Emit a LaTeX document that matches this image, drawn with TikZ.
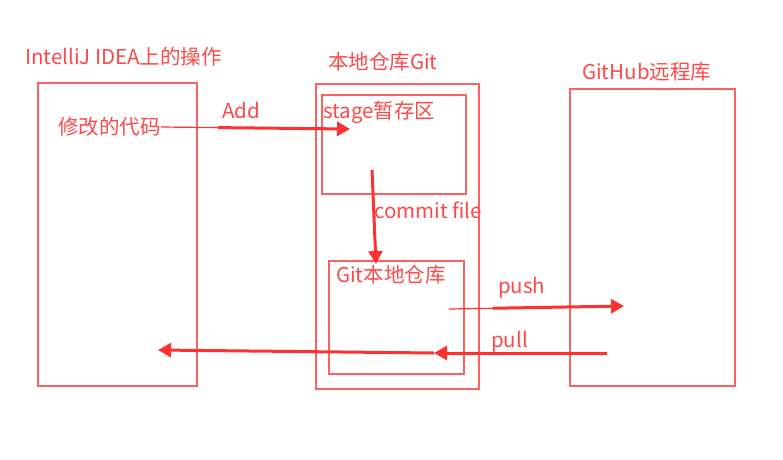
\documentclass[tikz,border=0pt]{standalone}
\usepackage{fontspec}
\setmainfont{Noto Sans CJK SC}
\usetikzlibrary{arrows.meta,calc}
\definecolor{boxred}{HTML}{FF6060}
\definecolor{txtred}{HTML}{FF4848}
\definecolor{arrred}{HTML}{FF3030}
\tikzset{
  frame/.style={draw=boxred, line width=1.3pt},
  lbl/.style={text=txtred, font=\fontsize{20.5}{22}\selectfont, inner sep=0pt, anchor=west},
  flow/.style={draw=arrred, line width=3pt, -{Triangle[length=13pt,width=14pt]}},
  thin flow/.style={draw=arrred, line width=1.2pt},
}
\begin{document}
\begin{tikzpicture}[x=1pt,y=-1pt]
\useasboundingbox (0,0) rectangle (783,459);
% boxes
\draw[frame] (38,83) rectangle (197,386);
\draw[frame] (316,84) rectangle (479,389);
\draw[frame] (322,95) rectangle (466,194);
\draw[frame] (329,261) rectangle (464,374);
\draw[frame] (570,89) rectangle (735,386);
% titles
\node[lbl] (t1) at (25,57) {IntelliJ IDEA上的操作};
\node[lbl] (t2) at (328,62) {本地仓库Git};
\node[lbl] (t3) at (582,72) {GitHub远程库};
% inner labels
\node[lbl] (code) at (58,127) {修改的代码};
\node[lbl] (stage) at (323,112) {stage暂存区};
\node[lbl] (repo) at (336,275) {Git本地仓库};
% connector endpoints
\coordinate (addS) at (code.east);
\coordinate (addE) at (350,129);
\coordinate (comS) at (372,170);
\coordinate (comE) at (376,264);
\coordinate (pushS) at (449,309);
\coordinate (pushE) at (624,306);
\coordinate (pullS) at (607,353);
\coordinate (pullE) at (434,353);
\coordinate (backE) at (158,350);
% arrows
\coordinate (addM) at ($(addS)!0.3!(addE)$);
\draw[thin flow] (addS) -- (addM);
\draw[flow] (addM) -- (addE);
\draw[flow] (comS) -- (comE);
\draw[thin flow] (pushS) -- ($(pushS)!0.25!(pushE)$) coordinate (pushM);
\draw[flow] (pushM) -- (pushE);
\draw[flow] (pullS) -- (pullE);
\draw[flow] (pullE) -- (backE);
% arrow labels
\node[lbl] (add) at (222,110) {Add};
\node[lbl] (commit) at (374,210) {commit file};
\node[lbl] (push) at (498,288) {push};
\node[lbl] (pull) at (491,342) {pull};
\end{tikzpicture}
\end{document}
